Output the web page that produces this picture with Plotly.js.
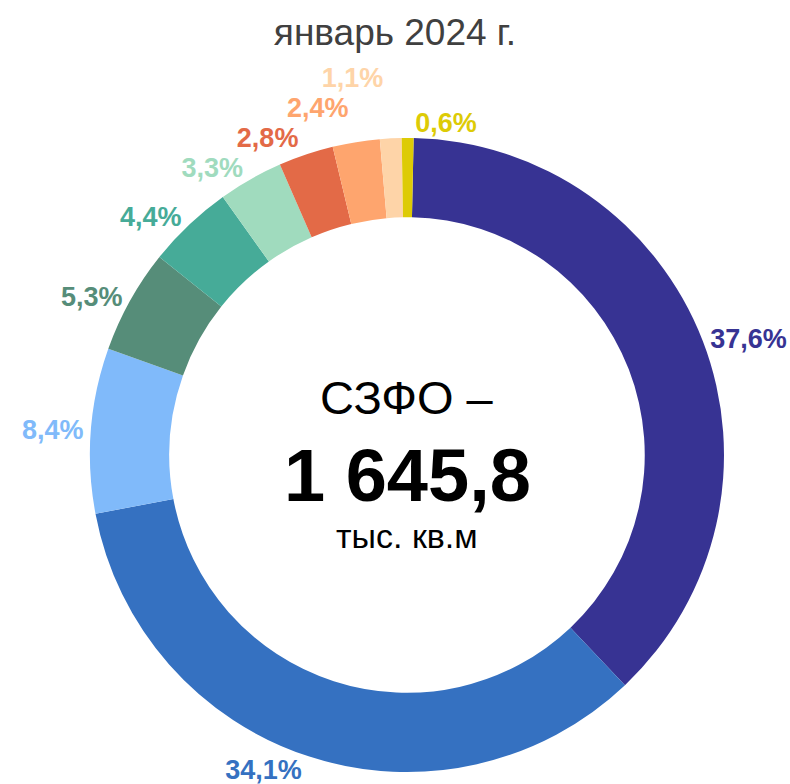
<!DOCTYPE html>
<html>
<head>
<meta charset="utf-8">
<script src="https://cdn.plot.ly/plotly-3.0.1.min.js"></script>
<style>html,body{margin:0;padding:0;background:#fff;}#chart{width:790px;height:784px;}
#chart path.textline{display:none;}</style>
</head>
<body>
<div id="chart"></div>
<script>
const categories = ["Сегмент 1","Сегмент 2","Сегмент 3","Сегмент 4","Сегмент 5","Сегмент 6","Сегмент 7","Сегмент 8","Сегмент 9","Сегмент 10"];
const shares = [37.6, 34.1, 8.4, 5.3, 4.4, 3.3, 2.8, 2.4, 1.1, 0.6];
const colors = ["#373393","#3571C1","#80BAFA","#568D79","#46AB98","#A0DBBE","#E36A47","#FEA56E","#FED4A8","#DDCB06"];
const titleText = "январь 2024 г.";
const centerLine1 = "СЗФО –";
const centerLine2 = "1 645,8";
const centerLine3 = "тыс. кв.м";

const FONT = "Liberation Sans, Arial, sans-serif";

const trace = {
  type: "pie",
  labels: categories,
  values: shares,
  sort: false,
  direction: "clockwise",
  rotation: 1.2,
  hole: 0.75,
  marker: {colors: colors, line: {width: 0}},
  textposition: "outside",
  texttemplate: "%{value:.1f}%",
  outsidetextfont: {family: FONT, size: 27, color: colors, weight: "bold"},
  showlegend: false,
  hoverinfo: "label+value"
};

const layout = {
  width: 790,
  height: 784,
  separators: ", ",
  margin: {t: 138, b: 12, l: 90, r: 66, autoexpand: false},
  paper_bgcolor: "#fff",
  title: {text: titleText, font: {family: FONT, size: 37, color: "#404040"}, x: 0.5, xanchor: "center", y: 1 - 32 / 784, yanchor: "middle", yref: "container"},
  annotations: [
    {text: centerLine1, x: 0.5, y: 0.5, xref: "paper", yref: "paper", xanchor: "center", yanchor: "middle", yshift: 58, showarrow: false, font: {family: FONT, size: 47, color: "#000"}},
    {text: "<b>" + centerLine2 + "</b>", x: 0.5, y: 0.5, xref: "paper", yref: "paper", xanchor: "center", yanchor: "middle", yshift: -20, showarrow: false, font: {family: FONT, size: 74, color: "#000"}},
    {text: centerLine3, x: 0.5, y: 0.5, xref: "paper", yref: "paper", xanchor: "center", yanchor: "middle", yshift: -81, showarrow: false, font: {family: FONT, size: 34, color: "#000"}}
  ]
};

Plotly.newPlot("chart", [trace], layout, {displayModeBar: false, staticPlot: true});
</script>
</body>
</html>
